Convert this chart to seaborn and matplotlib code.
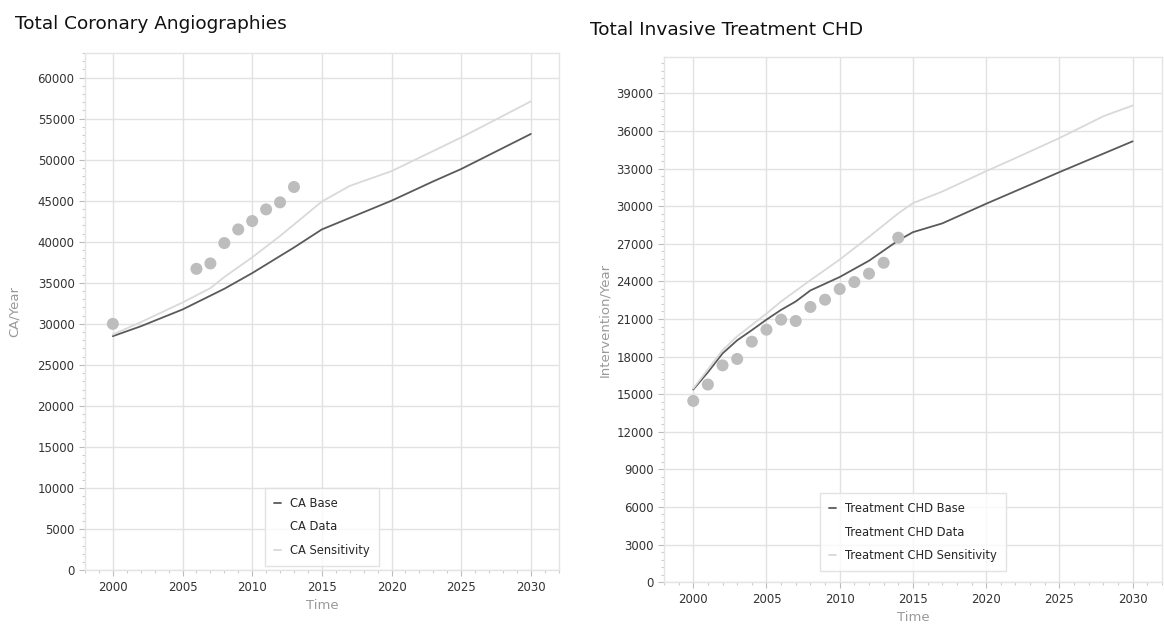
import numpy as np
import pandas as pd
import matplotlib
matplotlib.use('Agg')
import matplotlib.pyplot as plt
import seaborn as sns
from matplotlib.ticker import MultipleLocator

# --- DATA ---
# Left: coronary angiographies
ca_base_years = [2000, 2002, 2005, 2008, 2010, 2013, 2015, 2020, 2023, 2025, 2030]
ca_base = [28500, 29700, 31750, 34270, 36180, 39300, 41500, 45000, 47360, 48860, 53130]
ca_sens_years = [2000, 2002, 2005, 2007, 2008, 2010, 2012, 2015, 2017, 2020, 2025, 2030]
ca_sens = [28700, 30200, 32600, 34350, 35700, 38100, 40700, 44900, 46800, 48600, 52700, 57100]
ca_data_years = [2000, 2006, 2007, 2008, 2009, 2010, 2011, 2012, 2013]
ca_data = [30000, 36700, 37360, 39840, 41500, 42520, 43940, 44800, 46670]

# Right: invasive treatment CHD
chd_base_years = [2000, 2001, 2002, 2003, 2004, 2005, 2006, 2007, 2008, 2010, 2012, 2014, 2015, 2017, 2020, 2025, 2030]
chd_base = [15370, 16750, 18250, 19300, 20110, 20950, 21730, 22400, 23280, 24350, 25650, 27270, 27930, 28630, 30200, 32720, 35180]
chd_sens_years = [2000, 2002, 2003, 2005, 2006, 2008, 2010, 2012, 2014, 2015, 2017, 2020, 2022, 2025, 2028, 2030]
chd_sens = [15450, 18500, 19620, 21430, 22400, 24100, 25740, 27560, 29430, 30250, 31170, 32800, 33840, 35440, 37180, 38040]
chd_data_years = list(range(2000, 2015))
chd_data = [14460, 15770, 17300, 17810, 19190, 20150, 20950, 20840, 21960, 22540,
            23390, 23950, 24620, 25490, 27490]

sns.set_style('whitegrid')
plt.rcParams['font.family'] = ['DejaVu Sans']

BASE_C = '#5a5a5a'
SENS_C = '#d9d9d9'
DOT_C = '#bdbdbd'
GRID_C = '#e2e2e2'

fig = plt.figure(figsize=(11.64, 6.30), dpi=100)
ax1 = fig.add_axes([0.073, 0.095, 0.407, 0.821])
ax2 = fig.add_axes([0.5704, 0.076, 0.4278, 0.8333])


def draw(ax, by, bv, sy, sv, dy, dv, names, ylim, ystep, ylabel, leg_y):
    sns.lineplot(x=by, y=bv, ax=ax, color=BASE_C, linewidth=1.3, label=names[0])
    sns.scatterplot(x=dy, y=dv, ax=ax, color=DOT_C, s=75, edgecolor='none', zorder=3)
    # data series shows no handle in the legend
    ax.plot([], [], color='none', label=names[1])
    sns.lineplot(x=sy, y=sv, ax=ax, color=SENS_C, linewidth=1.3, label=names[2])

    ax.set_xlim(1998, 2032)
    ax.set_ylim(*ylim)
    ax.xaxis.set_major_locator(MultipleLocator(5))
    ax.xaxis.set_minor_locator(MultipleLocator(1))
    ax.yaxis.set_major_locator(MultipleLocator(ystep))
    ax.yaxis.set_minor_locator(MultipleLocator(ystep / 5))
    ax.grid(True, which='major', color=GRID_C, linewidth=1)
    ax.grid(False, which='minor')
    for s in ax.spines.values():
        s.set_color('#e4e4e4')
        s.set_linewidth(1)
    ax.tick_params(axis='both', which='major', labelsize=8.5, labelcolor='#333333',
                   color='#bbbbbb', length=4, width=0.8, left=True, bottom=True)
    ax.tick_params(axis='both', which='minor', color='#cccccc', length=2, width=0.8,
                   left=True, bottom=True)
    ax.set_xlabel('Time', color='#999999', fontsize=9.5)
    ax.set_ylabel(ylabel, color='#999999', fontsize=9.5)

    leg = ax.legend(loc='lower center', bbox_to_anchor=(0.5, leg_y),
                    fontsize=8.3, frameon=True, fancybox=False, handlelength=0.6,
                    handletextpad=0.8, borderpad=0.8, labelspacing=0.9)
    leg.get_frame().set_edgecolor('#dddddd')
    leg.get_frame().set_linewidth(1)


draw(ax1, ca_base_years, ca_base, ca_sens_years, ca_sens, ca_data_years, ca_data,
     ['CA Base', 'CA Data', 'CA Sensitivity'], (0, 63000), 5000, 'CA/Year', -0.003)
draw(ax2, chd_base_years, chd_base, chd_sens_years, chd_sens, chd_data_years, chd_data,
     ['Treatment CHD Base', 'Treatment CHD Data', 'Treatment CHD Sensitivity'],
     (0, 41900), 3000, 'Intervention/Year', 0.01)

ax1.set_ylabel('CA/Year', color='#999999', fontsize=9.5, labelpad=12)

fig.text(0.013, 0.962, 'Total Coronary Angiographies', fontsize=13.3, color='#111111', va='center')
fig.text(0.507, 0.952, 'Total Invasive Treatment CHD', fontsize=13.3, color='#111111', va='center')

fig.savefig('out.png', dpi=100, facecolor='white')
